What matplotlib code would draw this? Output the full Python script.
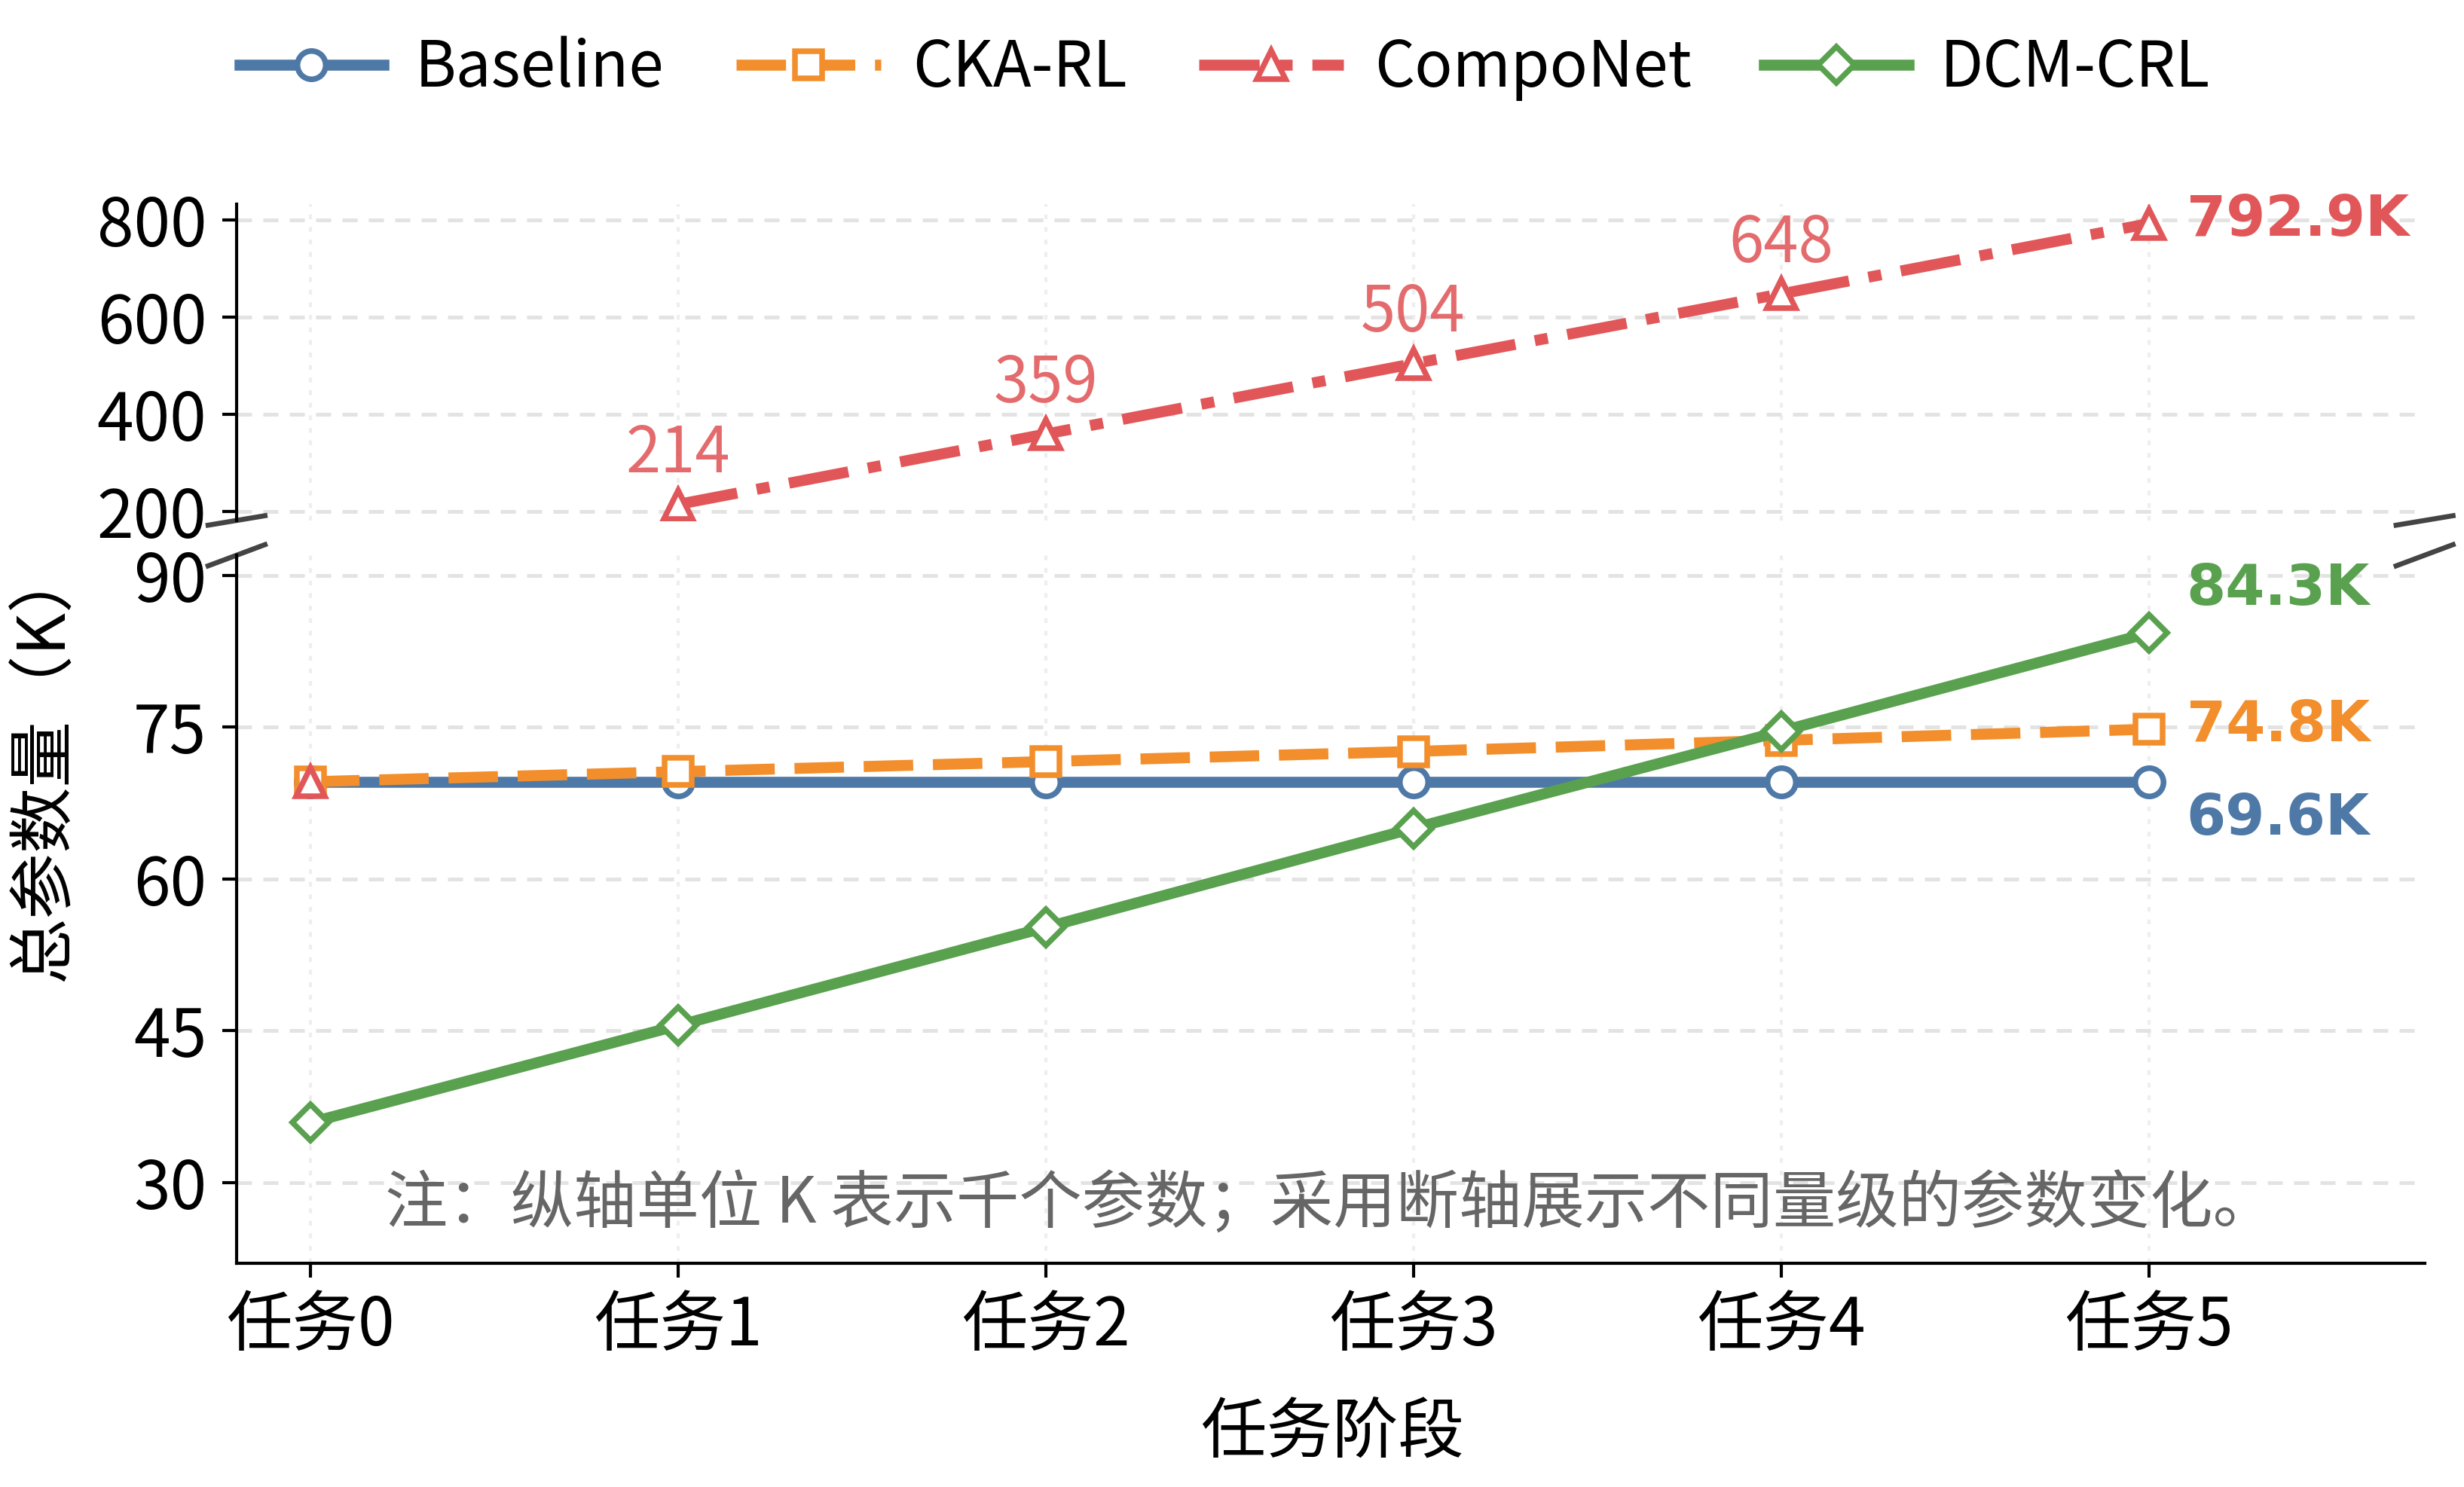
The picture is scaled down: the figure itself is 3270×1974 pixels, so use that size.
import matplotlib
matplotlib.use('Agg')
import matplotlib.pyplot as plt

plt.rcParams['font.family'] = ['Noto Sans CJK SC', 'DejaVu Sans']
plt.rcParams['axes.unicode_minus'] = False

# ---------------- data ----------------
tasks = ['任务0', '任务1', '任务2', '任务3', '任务4', '任务5']
baseline = [69.6, 69.6, 69.6, 69.6, 69.6, 69.6]
cka_rl = [69.6, 70.6, 71.6, 72.6, 73.7, 74.8]
componet = [69.6, 214, 359, 504, 648, 792.9]
dcm_crl = [35.9, 45.5, 55.2, 65.0, 74.6, 84.3]

series_names = ['Baseline', 'CKA-RL', 'CompoNet', 'DCM-CRL']
top_ticks = [200, 400, 600, 800]
bot_ticks = [30, 45, 60, 75, 90]
end_labels = ['69.6K', '74.8K', '792.9K', '84.3K']
note = '注：纵轴单位 K 表示千个参数；采用断轴展示不同量级的参数变化。'

# ---------------- style ----------------
C_BLUE = '#4e79a7'
C_ORANGE = '#f28e2b'
C_RED = '#e15759'
C_GREEN = '#59a14f'

fig = plt.figure(figsize=(10.9, 6.58), dpi=300)
ax_top = fig.add_axes([0.096, 0.650, 0.888, 0.2127])
ax_bot = fig.add_axes([0.096, 0.1505, 0.888, 0.4761])

x = list(range(len(tasks)))
lw = 3.5
ms = 9
mew = 1.8

common = dict(lw=lw, ms=ms, mew=mew, mfc='white')

# bottom axes
l1, = ax_bot.plot(x, baseline, color=C_BLUE, ls='-', marker='o', label=series_names[0], zorder=3, **common)
l2, = ax_bot.plot(x, cka_rl, color=C_ORANGE, ls=(0, (4.5, 1.8)), marker='s', label=series_names[1], zorder=4,
                  lw=lw, ms=ms - 0.5, mew=mew, mfc='white')
ax_bot.plot(x[:1], componet[:1], color=C_RED, ls='none', marker='^', ms=ms, mew=mew, mfc='white', zorder=5)
l4, = ax_bot.plot(x, dcm_crl, color=C_GREEN, ls='-', marker='D', label=series_names[3], zorder=6,
                  lw=lw, ms=ms - 1, mew=mew, mfc='white')

# top axes
l3, = ax_top.plot(x[1:], componet[1:], color=C_RED, ls=(0, (5.5, 1.8, 1.2, 1.8)), marker='^',
                  label=series_names[2], zorder=4, **common)

for i in range(1, 5):
    ax_top.annotate(f'{componet[i]:.0f}', (x[i], componet[i]), xytext=(0, 16),
                    textcoords='offset points', ha='center', va='center',
                    color=C_RED, alpha=0.88, fontsize=20)

lab_kw = dict(textcoords='offset points', ha='left', va='center', fontsize=18,
              fontweight='bold', family='DejaVu Sans')
ax_top.annotate(end_labels[2], (x[-1], componet[-1]), xytext=(12, 1), color=C_RED, **lab_kw)
ax_bot.annotate(end_labels[3], (x[-1], dcm_crl[-1]), xytext=(12, 14), color=C_GREEN, **lab_kw)
ax_bot.annotate(end_labels[1], (x[-1], cka_rl[-1]), xytext=(12, 1), color=C_ORANGE, **lab_kw)
ax_bot.annotate(end_labels[0], (x[-1], baseline[-1]), xytext=(12, -12), color=C_BLUE, **lab_kw)

# limits / ticks
for ax in (ax_top, ax_bot):
    ax.set_xlim(-0.2, 5.75)
    ax.spines['top'].set_visible(False)
    ax.spines['right'].set_visible(False)
    ax.spines['left'].set_linewidth(1.0)
    ax.spines['bottom'].set_linewidth(1.0)
    ax.set_xticks(x)
    ax.tick_params(axis='both', labelsize=21, length=4.5, width=1.0, pad=5)
    ax.yaxis.grid(True, ls=(0, (4, 3)), color='#e3e3e3', lw=1.2)
    ax.xaxis.grid(True, ls=(0, (1.5, 2.5)), color='#eeeeee', lw=1.0)
    ax.set_axisbelow(True)

ax_top.set_ylim(181, 833)
ax_top.set_yticks(top_ticks)
ax_top.spines['bottom'].set_visible(False)
ax_top.tick_params(axis='x', bottom=False, labelbottom=False)

ax_bot.set_ylim(22, 92)
ax_bot.set_yticks(bot_ticks)
ax_bot.set_xticklabels(tasks)

# break marks
dx, dy = 0.013, 0.015
bk = dict(color='#444444', lw=1.6, clip_on=False, transform=ax_top.transAxes)
ax_top.plot([-dx, dx], [-dy, dy], **bk)
ax_top.plot([1 - dx, 1 + dx], [-dy, dy], **bk)
bk['transform'] = ax_bot.transAxes
ax_bot.plot([-dx, dx], [1 - dy, 1 + dy], **bk)
ax_bot.plot([1 - dx, 1 + dx], [1 - dy, 1 + dy], **bk)

# note
ax_bot.text(0.5, 0.082, note, transform=ax_bot.transAxes, ha='center', va='center',
            fontsize=20, color='#666666')

# axis labels
fig.text(0.018, 0.487, '总参数量（K）', rotation=90, ha='center', va='center', fontsize=21)
fig.text(0.5407, 0.036, '任务阶段', ha='center', va='center', fontsize=21)

# legend
fig.legend(handles=[l1, l2, l3, l4], labels=series_names, loc='center',
           bbox_to_anchor=(0.497, 0.954), ncol=4, frameon=False, fontsize=20,
           handlelength=2.3, handletextpad=0.5, columnspacing=1.15)

fig.savefig('out.png', dpi=300)
